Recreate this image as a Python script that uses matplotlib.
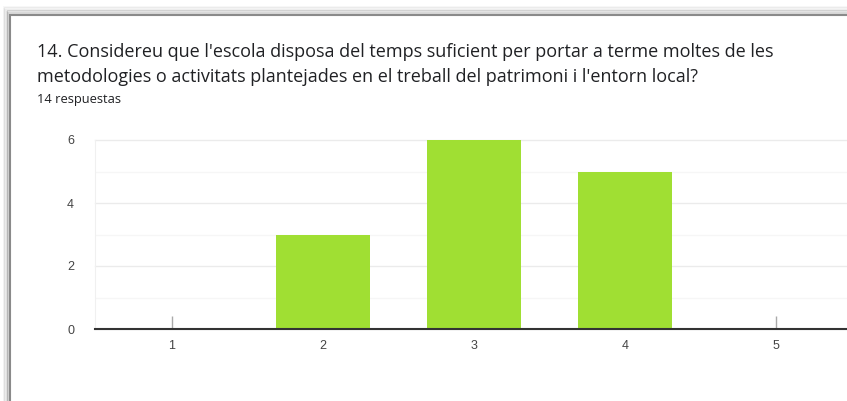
import numpy as np
import matplotlib.pyplot as plt
from matplotlib.patches import Rectangle

### DATA
categories = [1, 2, 3, 4, 5]
counts = [0, 3, 6, 5, 0]
title = ("14. Considereu que l'escola disposa del temps suficient per portar a terme moltes de les\n"
         "metodologies o activitats plantejades en el treball del patrimoni i l'entorn local?")
subtitle = "14 respuestas"
y_ticks = [0, 2, 4, 6]

W, H = 847, 401
fig = plt.figure(figsize=(W / 100, H / 100), dpi=100)
fig.patch.set_facecolor('white')

### CARD (border + soft shadow)
for i, a in enumerate([0.05, 0.08, 0.12, 0.18, 0.25]):
    off = (5 - i) * 1.4
    fig.patches.append(Rectangle(((10 - off) / W, -0.1), 2 / W, 1 - (15 - off) / H + 0.1,
                                 transform=fig.transFigure, color='#000000', alpha=a, lw=0, zorder=-10))
    fig.patches.append(Rectangle(((10 - off) / W, 1 - (15 - off) / H), 1.2, 2 / H,
                                 transform=fig.transFigure, color='#000000', alpha=a * 0.6, lw=0, zorder=-10))
fig.patches.append(Rectangle((10 / W, -0.1), 1.2, 1 - 15 / H + 0.1, transform=fig.transFigure,
                             facecolor='white', edgecolor='#8a8a8a', lw=1.5, zorder=-5))

fig.text(37 / W, 1 - 43 / H, title, fontsize=12.95, family='Open Sans', color='#202124',
         va='top', ha='left', linespacing=1.5)
fig.text(37 / W, 1 - 100 / H, subtitle, fontsize=9.3, family='Open Sans', color='#202124',
         va='center', ha='left')

### CHART
ax = fig.add_axes([95 / W, 1 - 329 / H, 1 - 95 / W, (329 - 140) / H])
ax.set_facecolor('none')
ax.bar(categories, counts, width=0.62, color='#a0df33', zorder=3)
zero_cats = [c for c, v in zip(categories, counts) if v == 0]
ax.vlines(zero_cats, 0, 0.42, color='#aaaaaa', lw=1, zorder=3)

ax.set_xlim(0.49, 5.47)
ax.set_ylim(0, 6)
ax.set_yticks(y_ticks)
ax.set_yticks([1, 3, 5], minor=True)
ax.set_xticks(categories)
ax.grid(axis='y', which='major', color='#ebebeb', lw=1, zorder=0, clip_on=False)
ax.grid(axis='y', which='minor', color='#f6f6f6', lw=1, zorder=0)
for sp in ['top', 'right']:
    ax.spines[sp].set_visible(False)
ax.spines['left'].set_color('#f0f0f0')
ax.spines['bottom'].set_color('#333333')
ax.spines['bottom'].set_linewidth(1.5)
ax.spines['bottom'].set_zorder(4)
ax.tick_params(axis='both', which='both', length=0, labelsize=9, labelcolor='#444444',
               labelfontfamily='Liberation Sans')
ax.tick_params(axis='x', pad=8)
ax.tick_params(axis='y', pad=15)

fig.savefig('out.png', dpi=100)
